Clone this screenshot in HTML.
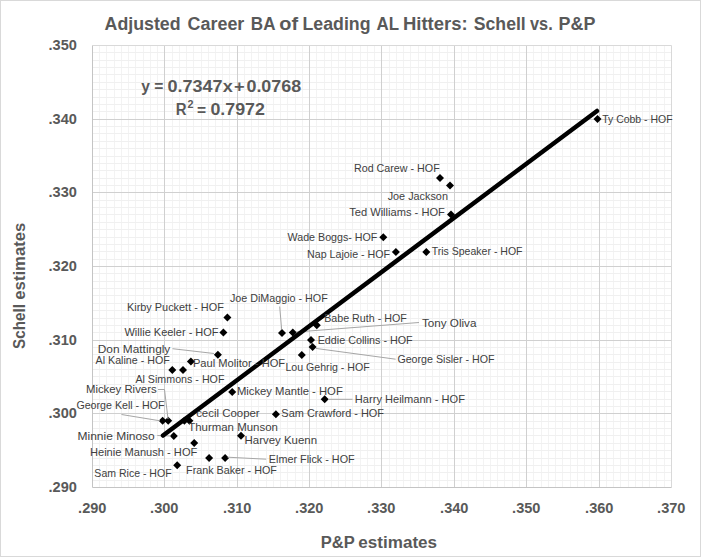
<!DOCTYPE html><html><head><meta charset="utf-8"><style>html,body{margin:0;padding:0;background:#fff;}body{width:701px;height:557px;position:relative;overflow:hidden;}</style></head><body><svg width="701" height="557" viewBox="0 0 701 557" style="position:absolute;left:0;top:0"><rect x="0" y="0" width="701" height="557" fill="#ffffff"/><path d="M99.5 45V487M106.5 45V487M114.5 45V487M121.5 45V487M128.5 45V487M135.5 45V487M143.5 45V487M150.5 45V487M157.5 45V487M172.5 45V487M179.5 45V487M186.5 45V487M193.5 45V487M201.5 45V487M208.5 45V487M215.5 45V487M222.5 45V487M229.5 45V487M244.5 45V487M251.5 45V487M258.5 45V487M266.5 45V487M273.5 45V487M280.5 45V487M287.5 45V487M295.5 45V487M302.5 45V487M316.5 45V487M324.5 45V487M331.5 45V487M338.5 45V487M345.5 45V487M352.5 45V487M360.5 45V487M367.5 45V487M374.5 45V487M389.5 45V487M396.5 45V487M403.5 45V487M410.5 45V487M418.5 45V487M425.5 45V487M432.5 45V487M439.5 45V487M447.5 45V487M461.5 45V487M468.5 45V487M476.5 45V487M483.5 45V487M490.5 45V487M497.5 45V487M504.5 45V487M512.5 45V487M519.5 45V487M533.5 45V487M541.5 45V487M548.5 45V487M555.5 45V487M562.5 45V487M570.5 45V487M577.5 45V487M584.5 45V487M591.5 45V487M606.5 45V487M613.5 45V487M620.5 45V487M628.5 45V487M635.5 45V487M642.5 45V487M649.5 45V487M656.5 45V487M664.5 45V487" stroke="#f3f3f3" stroke-width="1" fill="none"/><path d="M92 480.5H671M92 472.5H671M92 465.5H671M92 458.5H671M92 450.5H671M92 443.5H671M92 435.5H671M92 428.5H671M92 421.5H671M92 406.5H671M92 399.5H671M92 391.5H671M92 384.5H671M92 376.5H671M92 369.5H671M92 362.5H671M92 354.5H671M92 347.5H671M92 332.5H671M92 325.5H671M92 318.5H671M92 310.5H671M92 303.5H671M92 295.5H671M92 288.5H671M92 281.5H671M92 273.5H671M92 259.5H671M92 251.5H671M92 244.5H671M92 237.5H671M92 229.5H671M92 222.5H671M92 214.5H671M92 207.5H671M92 200.5H671M92 185.5H671M92 178.5H671M92 170.5H671M92 163.5H671M92 156.5H671M92 148.5H671M92 141.5H671M92 133.5H671M92 126.5H671M92 111.5H671M92 104.5H671M92 97.5H671M92 89.5H671M92 82.5H671M92 74.5H671M92 67.5H671M92 60.5H671M92 52.5H671" stroke="#f0f0f0" stroke-width="1" fill="none"/><path d="M164.5 45V487M237.5 45V487M309.5 45V487M381.5 45V487M454.5 45V487M526.5 45V487M599.5 45V487M92 413.5H671M92 340.5H671M92 266.5H671M92 192.5H671M92 119.5H671" stroke="#d0d0d0" stroke-width="1" fill="none"/><path d="M92.5 45.5H671.5V487.5" stroke="#d9d9d9" stroke-width="1" fill="none"/><path d="M92.5 45.5V487.5H671.5" stroke="#c4c4c4" stroke-width="1" fill="none"/><rect x="0.5" y="0.5" width="700" height="556" fill="none" stroke="#d9d9d9" stroke-width="1"/><path d="M597.5 115.0l4 4l-4 4l-4 -4zM440.0 174.0l4 4l-4 4l-4 -4zM450.0 181.4l4 4l-4 4l-4 -4zM451.0 210.4l4 4l-4 4l-4 -4zM383.3 233.3l4 4l-4 4l-4 -4zM395.9 247.9l4 4l-4 4l-4 -4zM426.3 248.1l4 4l-4 4l-4 -4zM227.4 313.6l4 4l-4 4l-4 -4zM223.4 328.6l4 4l-4 4l-4 -4zM282.0 329.0l4 4l-4 4l-4 -4zM292.8 328.5l4 4l-4 4l-4 -4zM316.8 321.2l4 4l-4 4l-4 -4zM311.0 335.9l4 4l-4 4l-4 -4zM312.6 343.0l4 4l-4 4l-4 -4zM301.8 350.9l4 4l-4 4l-4 -4zM217.9 350.7l4 4l-4 4l-4 -4zM190.9 357.5l4 4l-4 4l-4 -4zM172.3 366.1l4 4l-4 4l-4 -4zM183.0 366.1l4 4l-4 4l-4 -4zM168.2 416.8l4 4l-4 4l-4 -4zM162.6 416.8l4 4l-4 4l-4 -4zM173.8 432.1l4 4l-4 4l-4 -4zM184.4 416.8l4 4l-4 4l-4 -4zM189.4 416.8l4 4l-4 4l-4 -4zM232.2 388.0l4 4l-4 4l-4 -4zM275.9 410.2l4 4l-4 4l-4 -4zM324.7 395.3l4 4l-4 4l-4 -4zM241.0 431.8l4 4l-4 4l-4 -4zM225.1 453.9l4 4l-4 4l-4 -4zM194.2 439.0l4 4l-4 4l-4 -4zM177.2 461.2l4 4l-4 4l-4 -4zM209.1 453.9l4 4l-4 4l-4 -4z" fill="#000"/><path d="M279.7 306.5L281.6 329M419 322.5L296 332M315.7 348.4L395.6 359.2M172.5 348.7L214 353.5M158 389.5L164.5 389.5L168 419M121.5 414.5L160 420.8M157.3 435.5L171 436M328 399.3L352.6 399.3M227.6 457.2L266.2 459.2" stroke="#a6a6a6" stroke-width="1" fill="none"/><line x1="163" y1="435.5" x2="597" y2="111" stroke="#000" stroke-width="4.5" stroke-linecap="round"/><text x="104.59" y="30" textLength="76.05" lengthAdjust="spacingAndGlyphs" style="font-family:'Liberation Sans',sans-serif;font-size:18px;font-weight:bold;fill:#595959">Adjusted</text><text x="187.54" y="30" textLength="56.79" lengthAdjust="spacingAndGlyphs" style="font-family:'Liberation Sans',sans-serif;font-size:18px;font-weight:bold;fill:#595959">Career</text><text x="250.85" y="30" textLength="24.60" lengthAdjust="spacingAndGlyphs" style="font-family:'Liberation Sans',sans-serif;font-size:18px;font-weight:bold;fill:#595959">BA</text><text x="279.33" y="30" textLength="18.83" lengthAdjust="spacingAndGlyphs" style="font-family:'Liberation Sans',sans-serif;font-size:18px;font-weight:bold;fill:#595959">of</text><text x="302.51" y="30" textLength="68.02" lengthAdjust="spacingAndGlyphs" style="font-family:'Liberation Sans',sans-serif;font-size:18px;font-weight:bold;fill:#595959">Leading</text><text x="376.50" y="30" textLength="22.53" lengthAdjust="spacingAndGlyphs" style="font-family:'Liberation Sans',sans-serif;font-size:18px;font-weight:bold;fill:#595959">AL</text><text x="402.95" y="30" textLength="64.77" lengthAdjust="spacingAndGlyphs" style="font-family:'Liberation Sans',sans-serif;font-size:18px;font-weight:bold;fill:#595959">Hitters:</text><text x="473.76" y="30" textLength="52.02" lengthAdjust="spacingAndGlyphs" style="font-family:'Liberation Sans',sans-serif;font-size:18px;font-weight:bold;fill:#595959">Schell</text><text x="530.00" y="30" textLength="22.67" lengthAdjust="spacingAndGlyphs" style="font-family:'Liberation Sans',sans-serif;font-size:18px;font-weight:bold;fill:#595959">vs.</text><text x="558.58" y="30" textLength="36.80" lengthAdjust="spacingAndGlyphs" style="font-family:'Liberation Sans',sans-serif;font-size:18px;font-weight:bold;fill:#595959">P&amp;P</text><text x="48.51" y="492" textLength="28.33" lengthAdjust="spacingAndGlyphs" style="font-family:'Liberation Sans',sans-serif;font-size:14px;font-weight:bold;fill:#595959">.290</text><text x="48.51" y="418" textLength="28.33" lengthAdjust="spacingAndGlyphs" style="font-family:'Liberation Sans',sans-serif;font-size:14px;font-weight:bold;fill:#595959">.300</text><text x="48.51" y="345" textLength="28.33" lengthAdjust="spacingAndGlyphs" style="font-family:'Liberation Sans',sans-serif;font-size:14px;font-weight:bold;fill:#595959">.310</text><text x="48.51" y="271" textLength="28.33" lengthAdjust="spacingAndGlyphs" style="font-family:'Liberation Sans',sans-serif;font-size:14px;font-weight:bold;fill:#595959">.320</text><text x="48.51" y="197" textLength="28.33" lengthAdjust="spacingAndGlyphs" style="font-family:'Liberation Sans',sans-serif;font-size:14px;font-weight:bold;fill:#595959">.330</text><text x="48.51" y="124" textLength="28.33" lengthAdjust="spacingAndGlyphs" style="font-family:'Liberation Sans',sans-serif;font-size:14px;font-weight:bold;fill:#595959">.340</text><text x="48.51" y="50" textLength="28.33" lengthAdjust="spacingAndGlyphs" style="font-family:'Liberation Sans',sans-serif;font-size:14px;font-weight:bold;fill:#595959">.350</text><text x="78.11" y="513" textLength="28.31" lengthAdjust="spacingAndGlyphs" style="font-family:'Liberation Sans',sans-serif;font-size:14px;font-weight:bold;fill:#595959">.290</text><text x="150.11" y="513" textLength="28.31" lengthAdjust="spacingAndGlyphs" style="font-family:'Liberation Sans',sans-serif;font-size:14px;font-weight:bold;fill:#595959">.300</text><text x="223.11" y="513" textLength="28.31" lengthAdjust="spacingAndGlyphs" style="font-family:'Liberation Sans',sans-serif;font-size:14px;font-weight:bold;fill:#595959">.310</text><text x="295.11" y="513" textLength="28.31" lengthAdjust="spacingAndGlyphs" style="font-family:'Liberation Sans',sans-serif;font-size:14px;font-weight:bold;fill:#595959">.320</text><text x="367.11" y="513" textLength="28.31" lengthAdjust="spacingAndGlyphs" style="font-family:'Liberation Sans',sans-serif;font-size:14px;font-weight:bold;fill:#595959">.330</text><text x="440.11" y="513" textLength="28.31" lengthAdjust="spacingAndGlyphs" style="font-family:'Liberation Sans',sans-serif;font-size:14px;font-weight:bold;fill:#595959">.340</text><text x="512.11" y="513" textLength="28.31" lengthAdjust="spacingAndGlyphs" style="font-family:'Liberation Sans',sans-serif;font-size:14px;font-weight:bold;fill:#595959">.350</text><text x="585.11" y="513" textLength="28.31" lengthAdjust="spacingAndGlyphs" style="font-family:'Liberation Sans',sans-serif;font-size:14px;font-weight:bold;fill:#595959">.360</text><text x="657.11" y="513" textLength="28.31" lengthAdjust="spacingAndGlyphs" style="font-family:'Liberation Sans',sans-serif;font-size:14px;font-weight:bold;fill:#595959">.370</text><text x="320.72" y="548" textLength="33.94" lengthAdjust="spacingAndGlyphs" style="font-family:'Liberation Sans',sans-serif;font-size:16px;font-weight:bold;fill:#595959">P&amp;P</text><text x="358.38" y="548" textLength="78.69" lengthAdjust="spacingAndGlyphs" style="font-family:'Liberation Sans',sans-serif;font-size:16px;font-weight:bold;fill:#595959">estimates</text><text transform="translate(25,0) rotate(-90)" x="-349.00" y="0" textLength="44.91" lengthAdjust="spacingAndGlyphs" style="font-family:'Liberation Sans',sans-serif;font-size:16px;font-weight:bold;fill:#595959">Schell</text><text transform="translate(25,0) rotate(-90)" x="-299.70" y="0" textLength="77.05" lengthAdjust="spacingAndGlyphs" style="font-family:'Liberation Sans',sans-serif;font-size:16px;font-weight:bold;fill:#595959">estimates</text><text x="141.32" y="92" textLength="22.12" lengthAdjust="spacingAndGlyphs" style="font-family:'Liberation Sans',sans-serif;font-size:16px;font-weight:bold;fill:#595959">y =</text><text x="167.55" y="92" textLength="65.12" lengthAdjust="spacingAndGlyphs" style="font-family:'Liberation Sans',sans-serif;font-size:16px;font-weight:bold;fill:#595959">0.7347x</text><text x="233.96" y="92" textLength="10.65" lengthAdjust="spacingAndGlyphs" style="font-family:'Liberation Sans',sans-serif;font-size:16px;font-weight:bold;fill:#595959">+</text><text x="246.45" y="92" textLength="54.68" lengthAdjust="spacingAndGlyphs" style="font-family:'Liberation Sans',sans-serif;font-size:16px;font-weight:bold;fill:#595959">0.0768</text><text x="175.87" y="115" textLength="10.80" lengthAdjust="spacingAndGlyphs" style="font-family:'Liberation Sans',sans-serif;font-size:16px;font-weight:bold;fill:#595959">R</text><text x="187.44" y="108" textLength="6.00" lengthAdjust="spacingAndGlyphs" style="font-family:'Liberation Sans',sans-serif;font-size:10px;font-weight:bold;fill:#595959">2</text><text x="197.10" y="116" textLength="9.07" lengthAdjust="spacingAndGlyphs" style="font-family:'Liberation Sans',sans-serif;font-size:16px;font-weight:bold;fill:#595959">=</text><text x="210.46" y="115" textLength="54.44" lengthAdjust="spacingAndGlyphs" style="font-family:'Liberation Sans',sans-serif;font-size:16px;font-weight:bold;fill:#595959">0.7972</text><text x="602.22" y="123" textLength="70.34" lengthAdjust="spacingAndGlyphs" style="font-family:'Liberation Sans',sans-serif;font-size:10.5px;font-weight:normal;fill:#404040">Ty Cobb - HOF</text><text x="353.94" y="172" textLength="85.80" lengthAdjust="spacingAndGlyphs" style="font-family:'Liberation Sans',sans-serif;font-size:10.5px;font-weight:normal;fill:#404040">Rod Carew - HOF</text><text x="387.65" y="200" textLength="60.30" lengthAdjust="spacingAndGlyphs" style="font-family:'Liberation Sans',sans-serif;font-size:10.5px;font-weight:normal;fill:#404040">Joe Jackson</text><text x="349.16" y="216" textLength="95.71" lengthAdjust="spacingAndGlyphs" style="font-family:'Liberation Sans',sans-serif;font-size:10.5px;font-weight:normal;fill:#404040">Ted Williams - HOF</text><text x="287.59" y="241" textLength="89.75" lengthAdjust="spacingAndGlyphs" style="font-family:'Liberation Sans',sans-serif;font-size:10.5px;font-weight:normal;fill:#404040">Wade Boggs- HOF</text><text x="307.09" y="258" textLength="83.04" lengthAdjust="spacingAndGlyphs" style="font-family:'Liberation Sans',sans-serif;font-size:10.5px;font-weight:normal;fill:#404040">Nap Lajoie - HOF</text><text x="431.68" y="255" textLength="90.87" lengthAdjust="spacingAndGlyphs" style="font-family:'Liberation Sans',sans-serif;font-size:10.5px;font-weight:normal;fill:#404040">Tris Speaker - HOF</text><text x="127.00" y="311" textLength="96.85" lengthAdjust="spacingAndGlyphs" style="font-family:'Liberation Sans',sans-serif;font-size:10.5px;font-weight:normal;fill:#404040">Kirby Puckett - HOF</text><text x="124.48" y="336" textLength="94.14" lengthAdjust="spacingAndGlyphs" style="font-family:'Liberation Sans',sans-serif;font-size:10.5px;font-weight:normal;fill:#404040">Willie Keeler - HOF</text><text x="229.93" y="302" textLength="97.78" lengthAdjust="spacingAndGlyphs" style="font-family:'Liberation Sans',sans-serif;font-size:10.5px;font-weight:normal;fill:#404040">Joe DiMaggio - HOF</text><text x="324.15" y="322" textLength="82.65" lengthAdjust="spacingAndGlyphs" style="font-family:'Liberation Sans',sans-serif;font-size:10.5px;font-weight:normal;fill:#404040">Babe Ruth - HOF</text><text x="421.90" y="327" textLength="54.56" lengthAdjust="spacingAndGlyphs" style="font-family:'Liberation Sans',sans-serif;font-size:10.5px;font-weight:normal;fill:#404040">Tony Oliva</text><text x="317.67" y="344" textLength="95.03" lengthAdjust="spacingAndGlyphs" style="font-family:'Liberation Sans',sans-serif;font-size:10.5px;font-weight:normal;fill:#404040">Eddie Collins - HOF</text><text x="397.40" y="363" textLength="97.20" lengthAdjust="spacingAndGlyphs" style="font-family:'Liberation Sans',sans-serif;font-size:10.5px;font-weight:normal;fill:#404040">George Sisler - HOF</text><text x="285.42" y="371" textLength="84.30" lengthAdjust="spacingAndGlyphs" style="font-family:'Liberation Sans',sans-serif;font-size:10.5px;font-weight:normal;fill:#404040">Lou Gehrig - HOF</text><text x="97.81" y="353" textLength="72.51" lengthAdjust="spacingAndGlyphs" style="font-family:'Liberation Sans',sans-serif;font-size:10.5px;font-weight:normal;fill:#404040">Don Mattingly</text><text x="95.61" y="364" textLength="74.12" lengthAdjust="spacingAndGlyphs" style="font-family:'Liberation Sans',sans-serif;font-size:10.5px;font-weight:normal;fill:#404040">Al Kaline - HOF</text><text x="192.94" y="367" textLength="92.23" lengthAdjust="spacingAndGlyphs" style="font-family:'Liberation Sans',sans-serif;font-size:10.5px;font-weight:normal;fill:#404040">Paul Molitor - HOF</text><text x="135.41" y="383" textLength="89.04" lengthAdjust="spacingAndGlyphs" style="font-family:'Liberation Sans',sans-serif;font-size:10.5px;font-weight:normal;fill:#404040">Al Simmons - HOF</text><text x="85.93" y="393" textLength="70.67" lengthAdjust="spacingAndGlyphs" style="font-family:'Liberation Sans',sans-serif;font-size:10.5px;font-weight:normal;fill:#404040">Mickey Rivers</text><text x="76.40" y="409" textLength="88.21" lengthAdjust="spacingAndGlyphs" style="font-family:'Liberation Sans',sans-serif;font-size:10.5px;font-weight:normal;fill:#404040">George Kell - HOF</text><text x="77.58" y="440" textLength="77.20" lengthAdjust="spacingAndGlyphs" style="font-family:'Liberation Sans',sans-serif;font-size:10.5px;font-weight:normal;fill:#404040">Minnie Minoso</text><text x="196.16" y="417" textLength="63.53" lengthAdjust="spacingAndGlyphs" style="font-family:'Liberation Sans',sans-serif;font-size:10.5px;font-weight:normal;fill:#404040">cecil Cooper</text><text x="188.15" y="431" textLength="89.80" lengthAdjust="spacingAndGlyphs" style="font-family:'Liberation Sans',sans-serif;font-size:10.5px;font-weight:normal;fill:#404040">Thurman Munson</text><text x="236.92" y="395" textLength="105.88" lengthAdjust="spacingAndGlyphs" style="font-family:'Liberation Sans',sans-serif;font-size:10.5px;font-weight:normal;fill:#404040">Mickey Mantle - HOF</text><text x="281.38" y="417" textLength="102.65" lengthAdjust="spacingAndGlyphs" style="font-family:'Liberation Sans',sans-serif;font-size:10.5px;font-weight:normal;fill:#404040">Sam Crawford - HOF</text><text x="354.89" y="403" textLength="110.03" lengthAdjust="spacingAndGlyphs" style="font-family:'Liberation Sans',sans-serif;font-size:10.5px;font-weight:normal;fill:#404040">Harry Heilmann - HOF</text><text x="244.59" y="444" textLength="72.47" lengthAdjust="spacingAndGlyphs" style="font-family:'Liberation Sans',sans-serif;font-size:10.5px;font-weight:normal;fill:#404040">Harvey Kuenn</text><text x="268.83" y="463" textLength="85.87" lengthAdjust="spacingAndGlyphs" style="font-family:'Liberation Sans',sans-serif;font-size:10.5px;font-weight:normal;fill:#404040">Elmer Flick - HOF</text><text x="89.94" y="456" textLength="107.37" lengthAdjust="spacingAndGlyphs" style="font-family:'Liberation Sans',sans-serif;font-size:10.5px;font-weight:normal;fill:#404040">Heinie Manush - HOF</text><text x="94.37" y="477" textLength="77.23" lengthAdjust="spacingAndGlyphs" style="font-family:'Liberation Sans',sans-serif;font-size:10.5px;font-weight:normal;fill:#404040">Sam Rice - HOF</text><text x="186.14" y="474" textLength="90.72" lengthAdjust="spacingAndGlyphs" style="font-family:'Liberation Sans',sans-serif;font-size:10.5px;font-weight:normal;fill:#404040">Frank Baker - HOF</text></svg></body></html>
